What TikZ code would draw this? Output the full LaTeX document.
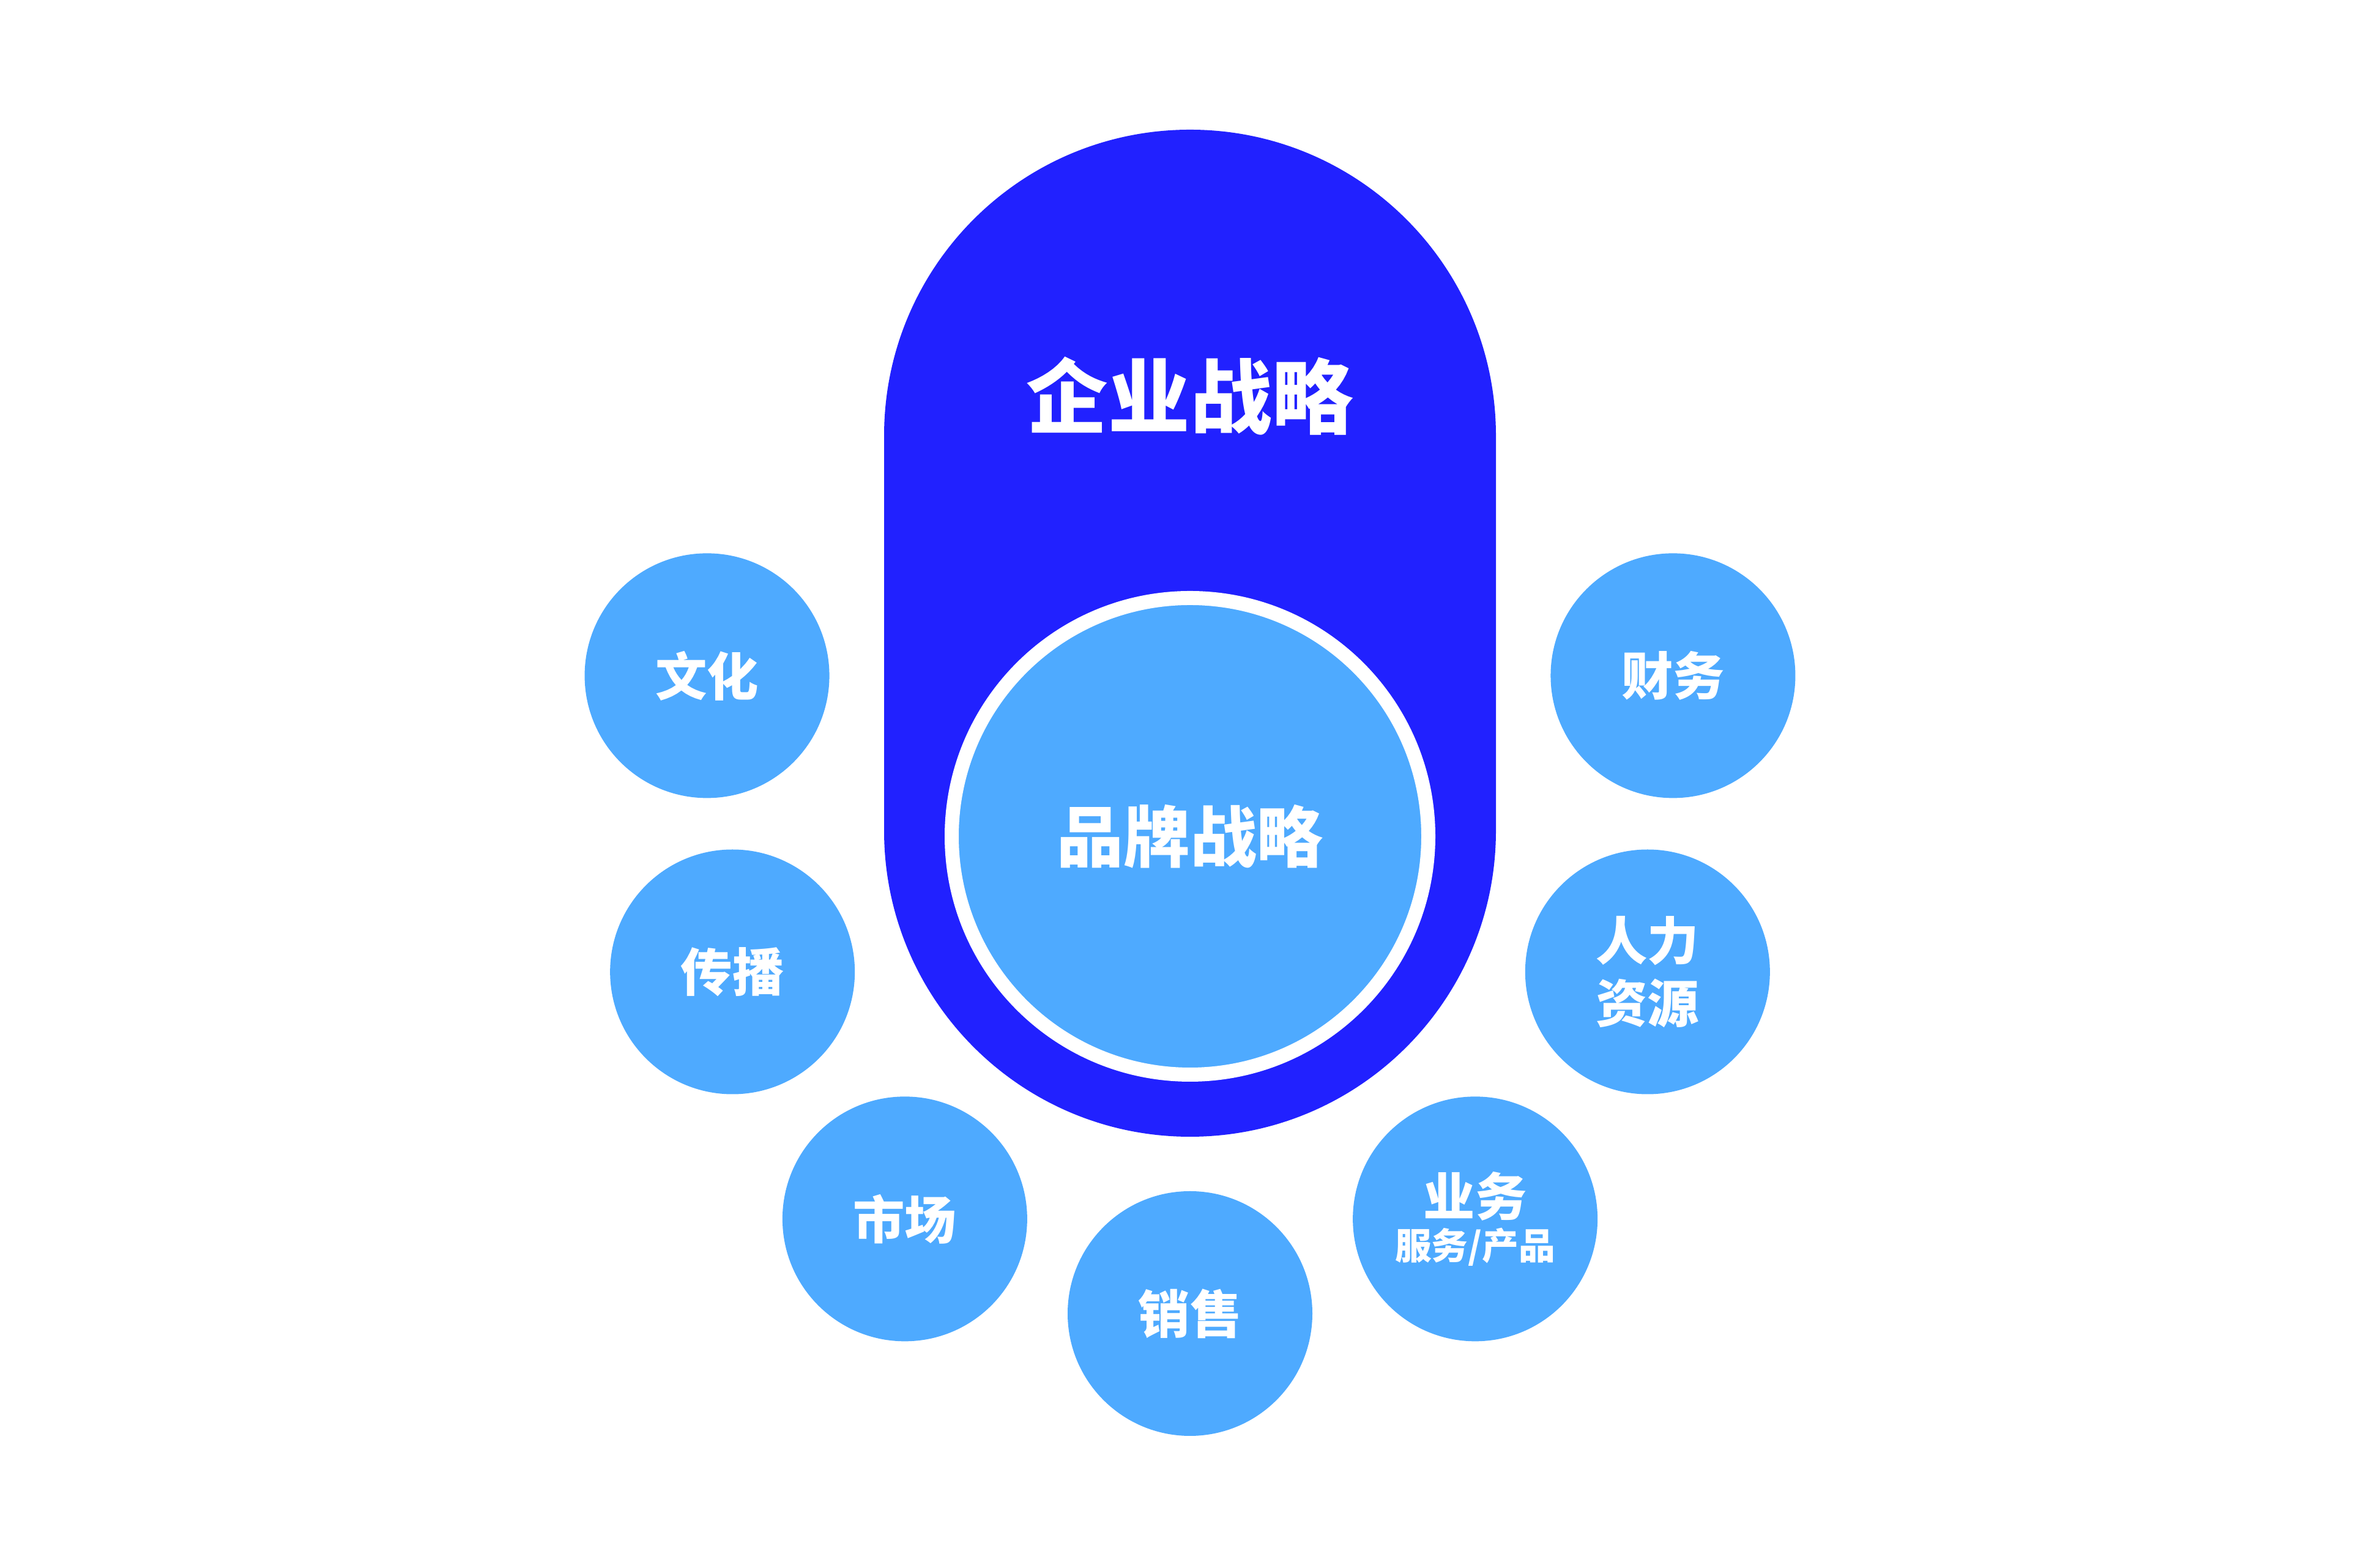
\documentclass[tikz,border=0pt]{standalone}
\usepackage{fontspec}
\newfontfamily\cjk{Noto Sans CJK SC}
\definecolor{corpblue}{RGB}{33,33,255}
\definecolor{brandblue}{RGB}{78,170,255}
\newcommand{\subtext}[1]{{\fontsize{17pt}{20pt}\selectfont #1}}
\tikzset{
  bubble/.style={circle, fill=brandblue, minimum size=4cm, inner sep=0pt,
    text=white, align=center, font=\cjk\bfseries\fontsize{24pt}{29pt}\selectfont}
}

\begin{document}
\begin{tikzpicture}[style=thick]
    \path[fill=white, use as bounding box] (0,0) rectangle (38.9,25.58);
    % capsule
    \fill[corpblue] (14.45,12) -- (14.45,18.46) arc (180:0:5) --
    (24.45,12) arc (0:-180:5) -- cycle;
    \node[text=white, font=\cjk\bfseries\fontsize{38pt}{46pt}\selectfont]
      (corp) at (19.45,19.11) {企业战略};
    \node[circle, fill=brandblue, draw=white, line width=0.23cm,
      minimum size=7.79cm, inner sep=0pt, text=white,
      font=\cjk\bfseries\fontsize{31pt}{37pt}\selectfont]
      (brand) at (19.45,11.91) {品牌战略};
    \begin{scope}[shift={(19.45,11.91)}]
    \foreach \a/\r/\n/\t in {161.6/8.32/wenhua/{文化}, 18.4/8.32/caiwu/{财务},
        196.5/7.8/chuanbo/{传播}, 343.5/7.8/renli/{人力\\资源},
        233.3/7.8/shichang/{市场}, 270/7.8/xiaoshou/{销售},
        306.7/7.8/yewu/{业务\\[-9pt]\subtext{服务/产品}}}{
        \node[bubble] (\n) at (\a:\r) {\t};
      }
    \end{scope}
    % \draw[red] (brand) circle (7.8);
  \end{tikzpicture}
\end{document}
